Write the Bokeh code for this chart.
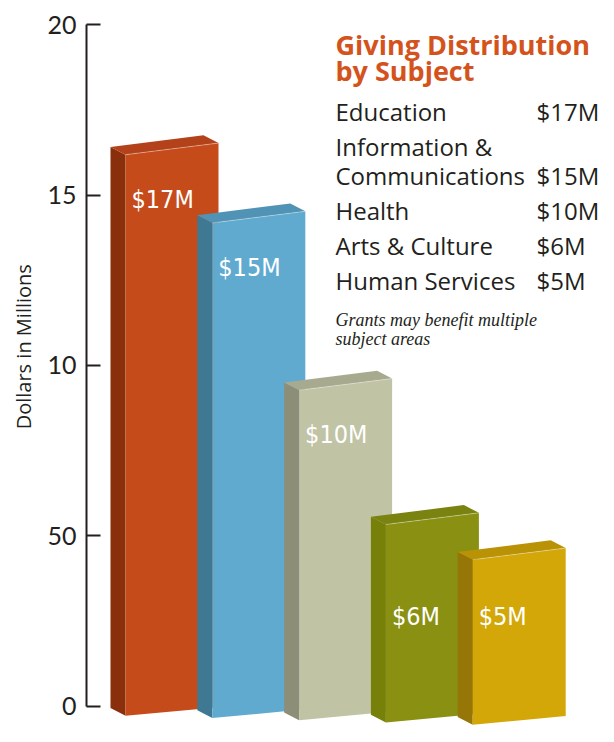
from bokeh.plotting import figure
from bokeh.models import Range1d, FixedTicker, Title
from bokeh.core.properties import value
from bokeh.embed import file_html
from bokeh.resources import INLINE

# ---------------- data ----------------
subjects = ["Education", "Information &\nCommunications", "Health",
            "Arts & Culture", "Human Services"]
amounts = [17, 15, 10, 6, 5]                      # $ millions
amount_labels = ["$17M", "$15M", "$10M", "$6M", "$5M"]
front_colors = ["#C64B1A", "#60AACF", "#C1C3A5", "#8A9012", "#D3A708"]
side_colors = ["#8A2F0B", "#3F7893", "#8C8E78", "#778009", "#967606"]
top_colors = ["#B3421A", "#5193B4", "#A8AA90", "#7B8310", "#BA9206"]
y_ticks = [0, 5, 10, 15, 20]
y_tick_labels = ["0", "50", "10", "15", "20"]
chart_title = ["Giving Distribution", "by Subject"]
note_lines = ["Grants may benefit multiple", "subject areas"]
axis_title = "Dollars in Millions"

# ---------------- layout constants ----------------
W, H = 598, 726
REF_H = 750            # design height the layout is drawn at
S = H / REF_H          # vertical fit factor
FRAME_LEFT = 86
ZERO_REF = 729         # design y of value 0
PPU = 35.2             # design pixels per value unit on the axis


def X(rx):
    return rx - FRAME_LEFT


def Y(ry):
    return (ZERO_REF - ry) / PPU


p = figure(width=W, height=H, output_backend="svg", toolbar_location=None,
           x_range=Range1d(0, W - FRAME_LEFT),
           y_range=Range1d(Y(REF_H), Y(0)),
           x_axis_type=None, min_border=0, min_border_left=FRAME_LEFT)
p.outline_line_color = None
p.grid.visible = False
p.background_fill_color = "white"
p.border_fill_color = "white"

ax = p.yaxis[0]
ax.ticker = FixedTicker(ticks=y_ticks)
ax.major_label_overrides = {t: s for t, s in zip(y_ticks, y_tick_labels)}
ax.bounds = (y_ticks[0], y_ticks[-1])
ax.minor_tick_line_color = None
ax.major_tick_in = 14
ax.major_tick_out = 0
ax.major_tick_line_width = 2
ax.major_tick_line_color = "#231F20"
ax.axis_line_width = 2
ax.axis_line_color = "#231F20"
ax.major_label_standoff = 10
ax.major_label_text_font = "Lato"
ax.major_label_text_font_size = "25px"
ax.major_label_text_color = "#231F20"

p.add_layout(Title(text=axis_title, align="left", offset=H - 443 * S,
                   text_font="Open Sans", text_font_size="20px",
                   text_font_style="normal", text_color="#231F20",
                   standoff=15), "left")

# ---------------- 3D bars (design pixels) ----------------
FIRST_FRONT_X = 125
PITCH = 86.8
FRONT_W = 93
DEPTH_X = 15
DEPTH_Y = 8
TOP_RISE = 12
BOTTOM_RISE = 9
BASE0 = 739
BASE_STEP = 2.3
BAR_PPU = 34.1
LABEL_DROP = 46
LOW_LABEL_BASE = 636

xs, ys, fills = [], [], []
hx0, hx1, hy0, hy1 = [], [], [], []
lab_x, lab_y = [], []
for i, v in enumerate(amounts):
    flx = X(FIRST_FRONT_X + i * PITCH)
    frx = flx + FRONT_W
    base_ref = BASE0 + i * BASE_STEP
    top_ref = base_ref - v * BAR_PPU
    fl_bot = Y(base_ref)
    fl_top = Y(top_ref)
    fr_bot = fl_bot + BOTTOM_RISE / PPU
    fr_top = fl_top + TOP_RISE / PPU
    ddx, ddy = -DEPTH_X, DEPTH_Y / PPU
    # side face
    xs.append([flx, flx, flx + ddx, flx + ddx])
    ys.append([fl_bot, fl_top, fl_top + ddy, fl_bot + ddy])
    fills.append(side_colors[i])
    # front face
    xs.append([flx, flx, frx, frx])
    ys.append([fl_bot, fl_top, fr_top, fr_bot])
    fills.append(front_colors[i])
    # top face
    xs.append([flx, frx, frx + ddx, flx + ddx])
    ys.append([fl_top, fr_top, fr_top + ddy, fl_top + ddy])
    fills.append(top_colors[i])
    hx0.append(flx); hx1.append(frx); hy0.append(fl_top); hy1.append(fr_top)
    lab_x.append(flx + 6)
    lab_y.append(Y(top_ref + LABEL_DROP) if v >= 10 else Y(LOW_LABEL_BASE))

p.patches(xs=xs, ys=ys, fill_color=fills, line_color=None)
p.segment(x0=hx0, y0=hy0, x1=hx1, y1=hy1, line_color="white",
          line_alpha=0.35, line_width=1)

p.text(x=lab_x, y=lab_y, text=amount_labels, text_color="white",
       text_font=value("DejaVu Sans Condensed, Roboto Condensed, Roboto"),
       text_font_size="25px", text_baseline="alphabetic", text_align="left")

# ---------------- right-hand text block ----------------
TX = 335
VX = 536
p.text(x=[X(TX)] * 2, y=[Y(45), Y(72)], text=chart_title,
       text_color="#D4531C", text_font=value("Open Sans"),
       text_font_style="bold", text_font_size="27px",
       text_baseline="alphabetic")

name_txt, name_y, val_y = [], [], []
base = 115
for s in subjects:
    parts = s.split("\n")
    for j, part in enumerate(parts):
        name_txt.append(part)
        name_y.append(Y(base + j * 30))
    val_y.append(Y(base + (len(parts) - 1) * 30))
    base += (len(parts) - 1) * 30 + 36

p.text(x=[X(TX)] * len(name_txt), y=name_y, text=name_txt,
       text_color="#231F20", text_font=value("Open Sans"),
       text_font_size="24px", text_baseline="alphabetic")
p.text(x=[X(VX)] * len(amount_labels), y=val_y, text=amount_labels,
       text_color="#231F20", text_font=value("Open Sans"),
       text_font_size="24px", text_baseline="alphabetic")

p.text(x=[X(TX)] * 2, y=[Y(330), Y(350)], text=note_lines,
       text_color="#231F20", text_font=value("Liberation Serif"),
       text_font_style="italic", text_font_size="18px",
       text_baseline="alphabetic")

open("out.html", "w").write(file_html(p, INLINE))
